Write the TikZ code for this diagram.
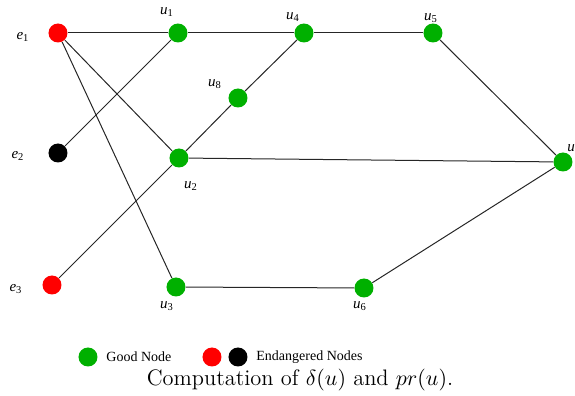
\documentclass[tikz,border=0pt]{standalone}
\usepackage{fontspec}
\newfontfamily\tnr{Liberation Serif}
\definecolor{goodgreen}{RGB}{0,176,0}
\definecolor{badred}{RGB}{255,0,0}
\tikzset{
  vtx/.style={circle,inner sep=0pt,minimum size=9.5pt},
  good/.style={vtx,fill=goodgreen},
  badr/.style={vtx,fill=badred},
  badk/.style={vtx,fill=black},
  lbl/.style={inner sep=0pt,font=\tnr\fontsize{7.5}{8}\selectfont\itshape},
  edge/.style={draw=black!85,line width=0.5pt},
  legtxt/.style={inner sep=0pt,anchor=west,font=\tnr\fontsize{7}{8}\selectfont}
}
\newcommand{\lab}[2]{#1\textsubscript{\upshape #2}}
\begin{document}
\begin{tikzpicture}[x=0.5pt,y=-0.5pt]
\useasboundingbox (0,0) rectangle (575,396);
% vertices
\node[badr] (e1) at (58,33) {};
\node[badk] (e2) at (58,153) {};
\node[badr] (e3) at (52,285) {};
\node[good] (u1) at (178,33) {};
\node[good] (u4) at (304,33) {};
\node[good] (u5) at (433,33) {};
\node[good] (u8) at (238,98) {};
\node[good] (u2) at (179,158) {};
\node[good] (u) at (563,162) {};
\node[good] (u3) at (176,287) {};
\node[good] (u6) at (364,288) {};
% edges
\draw[edge] (e1) -- (u1);
\draw[edge] (e1) -- (u2);
\draw[edge] (e1) -- (u3);
\draw[edge] (e2) -- (u1);
\draw[edge] (e3) -- (u2);
\draw[edge] (u2) -- (u8);
\draw[edge] (u8) -- (u4);
\draw[edge] (u1) -- (u4);
\draw[edge] (u4) -- (u5);
\draw[edge] (u5) -- (u);
\draw[edge] (u2) -- (u);
\draw[edge] (u3) -- (u6);
\draw[edge] (u6) -- (u);
% labels
\node[lbl] (le1) at (23,37) {\lab{e}{1}};
\node[lbl] (le2) at (18,156) {\lab{e}{2}};
\node[lbl] (le3) at (16,289) {\lab{e}{3}};
\node[lbl] (lu1) at (167,12) {\lab{u}{1}};
\node[lbl] (lu4) at (293,17) {\lab{u}{4}};
\node[lbl] (lu5) at (431,18) {\lab{u}{5}};
\node[lbl] (lu8) at (215,84) {\lab{u}{8}};
\node[lbl] (lu2) at (191,186) {\lab{u}{2}};
\node[lbl] (lu3) at (167,306) {\lab{u}{3}};
\node[lbl] (lu6) at (360,306) {\lab{u}{6}};
\node[lbl,anchor=west] (lu) at (567,148) {u};
% legend
\node[good] (lg) at (88,357) {};
\node[legtxt] (lgt) at (106,357) {Good Node};
\node[badr] (lr) at (212,357) {};
\node[badk] (lk) at (238,357) {};
\node[legtxt] (lbt) at (256,357) {Endangered Nodes};
% caption
\node[inner sep=0pt,font=\fontsize{11.2}{13}\selectfont] (cap) at (300,380) {Computation of $\delta(u)$ and $pr(u)$.};
\end{tikzpicture}
\end{document}
